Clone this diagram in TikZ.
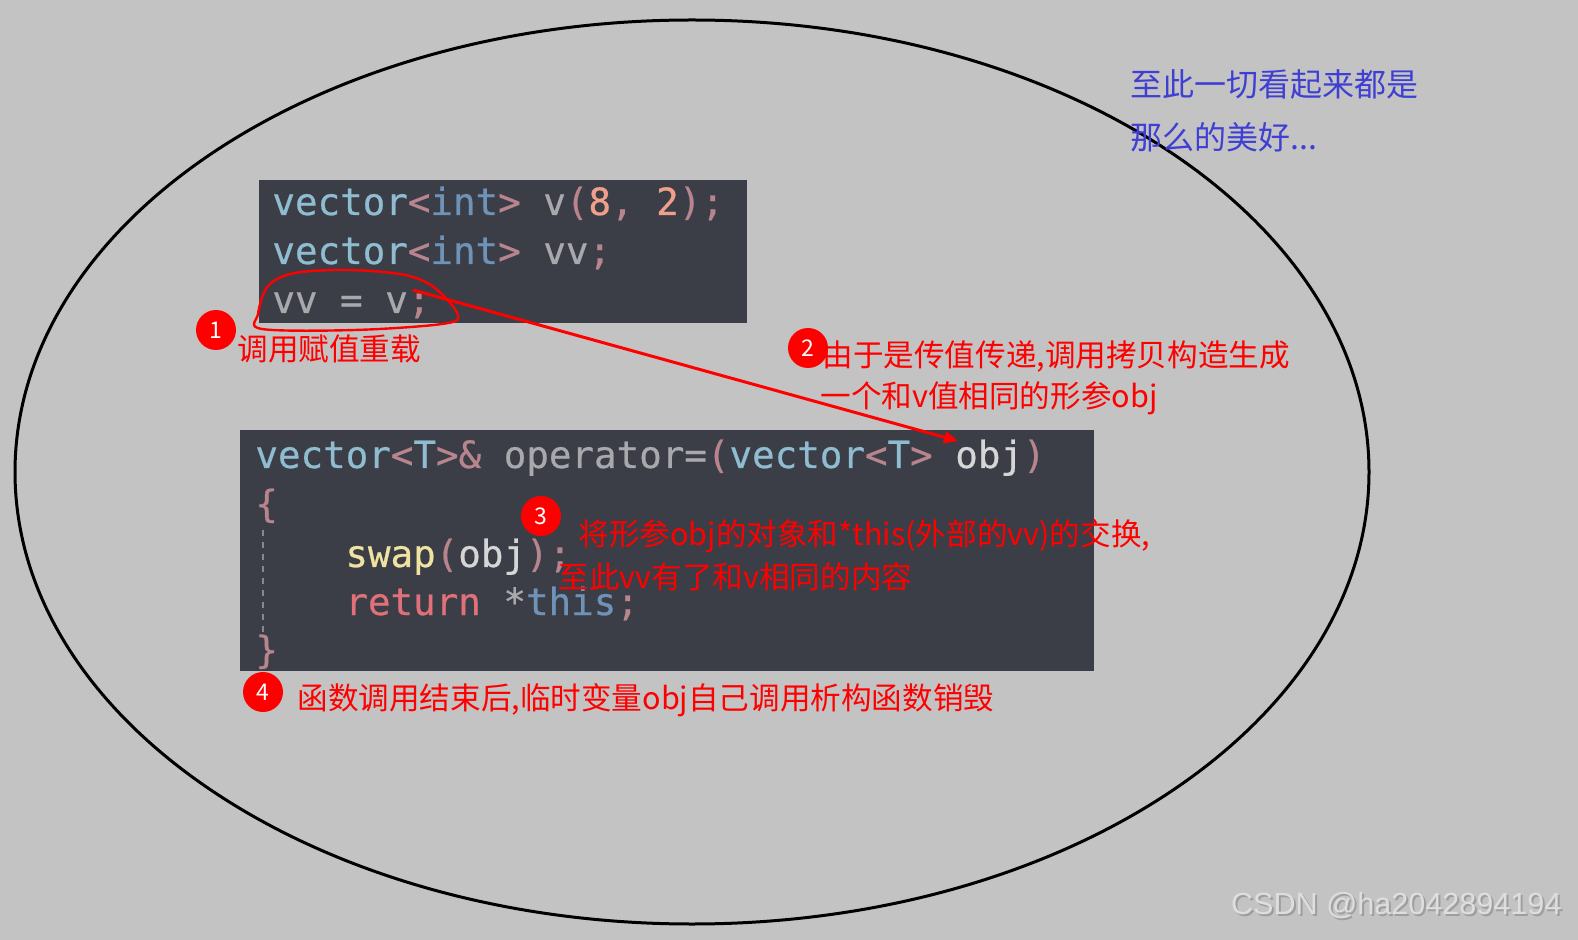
\documentclass[tikz,border=0pt]{standalone}
\usepackage{fontspec}
\usepackage{tikz}
\usetikzlibrary{arrows.meta}
\newfontfamily\cjk{Noto Sans CJK SC}
\newfontfamily\codefont{DejaVu Sans Mono}[WordSpace={1,0,0},FakeBold=0.6]
\newfontfamily\wmfont{Liberation Sans}
\definecolor{canvas}{HTML}{C3C3C3}
\definecolor{codebg}{HTML}{3B3E46}
\definecolor{ctype}{HTML}{8FBCD0}
\definecolor{cint}{HTML}{6F93B8}
\definecolor{cpunct}{HTML}{B8858E}
\definecolor{cvar}{HTML}{A9A9AD}
\definecolor{cnum}{HTML}{F0A08A}
\definecolor{cfn}{HTML}{F0E2A0}
\definecolor{ckw}{HTML}{E0707A}
\definecolor{cobj}{HTML}{D6D6D6}
\definecolor{note}{HTML}{FF0000}
\definecolor{calm}{HTML}{3F3FD4}
\newcommand{\kty}[1]{\textcolor{ctype}{#1}}
\newcommand{\kin}[1]{\textcolor{cint}{#1}}
\newcommand{\kpu}[1]{\textcolor{cpunct}{#1}}
\newcommand{\kva}[1]{\textcolor{cvar}{#1}}
\newcommand{\knu}[1]{\textcolor{cnum}{#1}}
\newcommand{\kfn}[1]{\textcolor{cfn}{#1}}
\newcommand{\kkw}[1]{\textcolor{ckw}{#1}}
\newcommand{\kob}[1]{\textcolor{cobj}{#1}}

\begin{document}
\begin{tikzpicture}[x=0.5pt,y=-0.5pt,
  code/.style={font=\codefont\fontsize{18.75}{24}\selectfont,anchor=base west,inner sep=0},
  remark/.style={font=\cjk\fontsize{15.3}{20}\selectfont,text=note,anchor=west,inner sep=0},
  mood/.style={font=\cjk\fontsize{16}{20}\selectfont,text=calm,anchor=west,inner sep=0},
  badge/.style={circle,fill=note,text=white,minimum size=20pt,inner sep=0,font=\cjk\fontsize{11.5}{12}\selectfont},
  ring/.style={draw=black,line width=1.5pt},
  scribble/.style={draw=note,line width=1.2pt},
  arr/.style={-{Triangle[length=7pt,width=6pt]},line width=1.5pt,note},
  wm/.style={font=\wmfont\fontsize{15.3}{18}\selectfont,anchor=east,inner sep=0}]
  \fill[canvas] (0,0) rectangle (1578,940);
  \useasboundingbox (0,0) rectangle (1578,940);
  \draw[ring] (692,472) ellipse [x radius=338.5pt,y radius=226pt];
  \fill[codebg] (259,180) rectangle (747,323);
  \fill[codebg] (240,430) rectangle (1094,671);
  \node[code] (l1) at (272,215) {\kty{vector}\kpu{<}\kin{int}\kpu{>} \kva{v}\kpu{(}\knu{8}\kpu{,} \knu{2}\kpu{);}};
  \node[code] (l2) at (272,264) {\kty{vector}\kpu{<}\kin{int}\kpu{>} \kva{vv}\kpu{;}};
  \node[code] (l3) at (272,313) {\kva{vv = v}\kpu{;}};
  \node[code] (f1) at (255,468) {\kty{vector}\kpu{<}\kty{T}\kpu{>\&} \kva{operator=}\kpu{(}\kty{vector}\kpu{<}\kty{T}\kpu{>} \kob{obj}\kpu{)}};
  \node[code] (f2) at (255,517) {\kpu{\{}};
  \node[code] (f3) at (345,567) {\kfn{swap}\kpu{(}\kob{obj}\kpu{);}};
  \node[code] (f4) at (345,615) {\kkw{return} \kva{*}\kin{this}\kpu{;}};
  \node[code] (f5) at (255,663) {\kpu{\}}};
  \draw[cvar!70!codebg,dashed,line width=0.6pt] (263,530) -- (263,632);
  \draw[scribble] plot[smooth cycle,tension=0.55] coordinates {(268,286) (295,273) (350,270) (405,275) (435,288) (458,315) (442,324) (355,330) (262,329) (258,314)};
  \coordinate (vvtail) at (413,290);
  \coordinate (objtip) at (958,441);
  \draw[arr] (vvtail) -- (objtip);
  \node[badge] (b1) at (216,330) {1};
  \node[remark] (t1) at (237,349) {调用赋值重载};
  \node[badge] (b2) at (808,348) {2};
  \node[remark] (t2a) at (822,357) {由于是传值传递,调用拷贝构造生成};
  \node[remark] (t2b) at (820,398) {一个和v值相同的形参obj};
  \node[badge] (b3) at (541,516) {3};
  \node[remark] (t3a) at (578,536) {将形参obj的对象和*this(外部的vv)的交换,};
  \node[remark] (t3b) at (558,577) {至此vv有了和v相同的内容};
  \node[badge] (b4) at (263,692) {4};
  \node[remark] (t4) at (297,700) {函数调用结束后,临时变量obj自己调用析构函数销毁};
  \node[mood] (m1) at (1130,84) {至此一切看起来都是};
  \node[mood] (m2) at (1130,137) {那么的美好...};
  \node[wm,text=black!38] (wms) at (1564,908) {CSDN @ha2042894194};
  \node[wm,text=black!13] (wmt) at (1562,906) {CSDN @ha2042894194};
\end{tikzpicture}
\end{document}
